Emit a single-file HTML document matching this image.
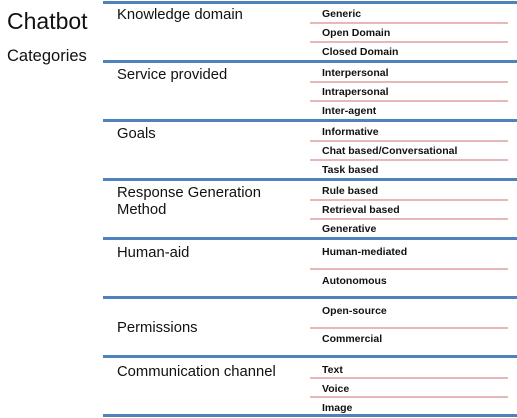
<!DOCTYPE html>
<html><head><style>
body{margin:0;width:517px;height:418px;background:#fff;position:relative;overflow:hidden;font-family:"Liberation Sans",sans-serif}
.b{position:absolute;left:103px;width:414px;height:3px;background:#4f81bd}
.p{position:absolute;left:310px;width:198px;height:2px;background:#e6b9b8}
.h{position:absolute;left:117px;font-size:14.8px;color:#111;line-height:17px}
.s{position:absolute;left:322px;font-size:10.5px;font-weight:bold;color:#111;line-height:12px}
</style></head><body>
<div style="position:absolute;left:7px;top:8px;font-size:23px;color:#111">Chatbot</div>
<div style="position:absolute;left:7px;top:47px;font-size:16.5px;color:#111">Categories</div>
<div class="b" style="top:1px"></div>
<div class="b" style="top:60px"></div>
<div class="b" style="top:119px"></div>
<div class="b" style="top:178px"></div>
<div class="b" style="top:237px"></div>
<div class="b" style="top:296px"></div>
<div class="b" style="top:355px"></div>
<div class="b" style="top:414px"></div>

<div class="h" style="top:7px">Knowledge domain</div>
<div class="s" style="top:8px">Generic</div><div class="p" style="top:22px"></div>
<div class="s" style="top:27px">Open Domain</div><div class="p" style="top:41px"></div>
<div class="s" style="top:46px">Closed Domain</div>

<div class="h" style="top:67px">Service provided</div>
<div class="s" style="top:67px">Interpersonal</div><div class="p" style="top:81px"></div>
<div class="s" style="top:86px">Intrapersonal</div><div class="p" style="top:100px"></div>
<div class="s" style="top:105px">Inter-agent</div>

<div class="h" style="top:126px">Goals</div>
<div class="s" style="top:126px">Informative</div><div class="p" style="top:140px"></div>
<div class="s" style="top:145px">Chat based/Conversational</div><div class="p" style="top:159px"></div>
<div class="s" style="top:164px">Task based</div>

<div class="h" style="top:185px">Response Generation<br>Method</div>
<div class="s" style="top:185px">Rule based</div><div class="p" style="top:199px"></div>
<div class="s" style="top:204px">Retrieval based</div><div class="p" style="top:218px"></div>
<div class="s" style="top:223px">Generative</div>

<div class="h" style="top:245px">Human-aid</div>
<div class="s" style="top:246px">Human-mediated</div><div class="p" style="top:268px"></div>
<div class="s" style="top:275px">Autonomous</div>

<div class="h" style="top:320px">Permissions</div>
<div class="s" style="top:305px">Open-source</div><div class="p" style="top:327px"></div>
<div class="s" style="top:333px">Commercial</div>

<div class="h" style="top:364px">Communication channel</div>
<div class="s" style="top:364px">Text</div><div class="p" style="top:377px"></div>
<div class="s" style="top:383px">Voice</div><div class="p" style="top:396px"></div>
<div class="s" style="top:402px">Image</div>
</body></html>
